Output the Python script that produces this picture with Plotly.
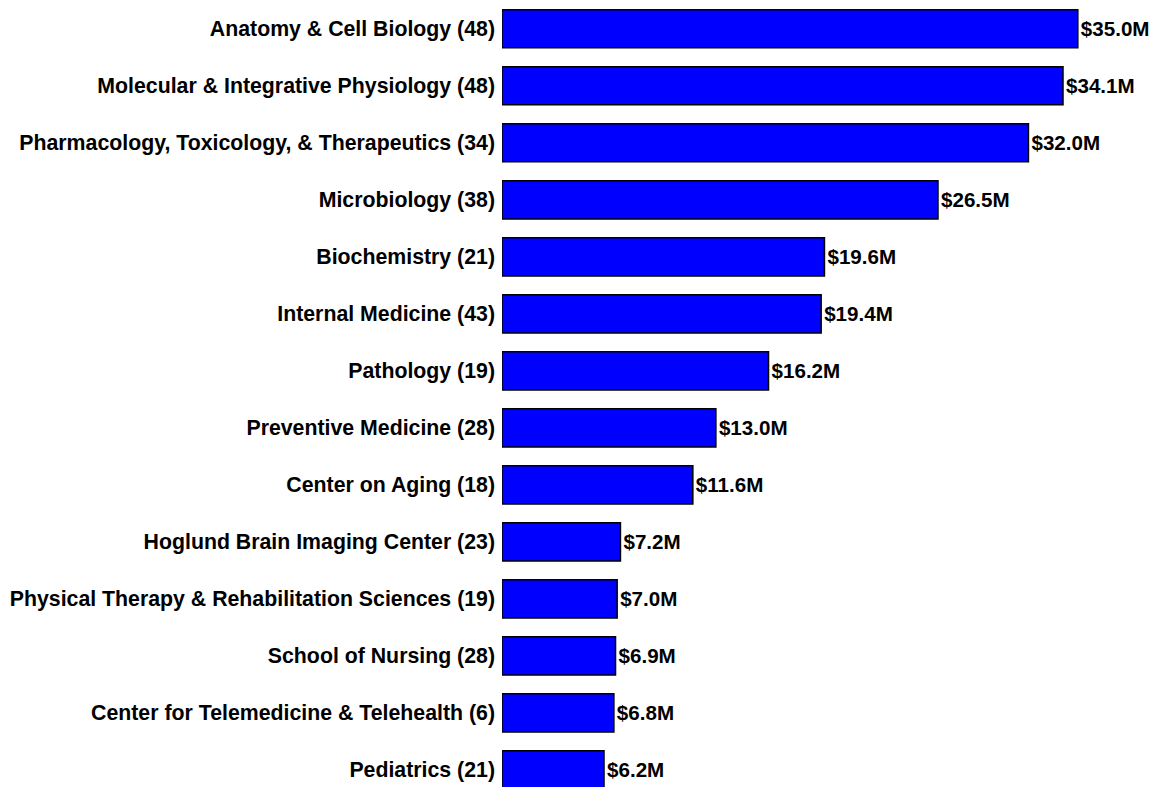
import plotly.graph_objects as go

departments = [
    "Anatomy & Cell Biology (48)",
    "Molecular & Integrative Physiology (48)",
    "Pharmacology, Toxicology, & Therapeutics (34)",
    "Microbiology (38)",
    "Biochemistry (21)",
    "Internal Medicine (43)",
    "Pathology (19)",
    "Preventive Medicine (28)",
    "Center on Aging (18)",
    "Hoglund Brain Imaging Center (23)",
    "Physical Therapy & Rehabilitation Sciences (19)",
    "School of Nursing (28)",
    "Center for Telemedicine & Telehealth (6)",
    "Pediatrics (21)",
]
funding_m = [35.0, 34.1, 32.0, 26.5, 19.6, 19.4, 16.2, 13.0, 11.6, 7.2, 7.0, 6.9, 6.8, 6.2]
value_labels = [f"${v:.1f}M" for v in funding_m]

FAMILY = "Liberation Sans, Arial, sans-serif"
TICK_FONT = dict(family=FAMILY, size=21.3, color="black", weight="bold")
VALUE_FONT = dict(family=FAMILY, size=20.6, color="black", weight="bold")

fig = go.Figure(go.Bar(
    x=funding_m, y=departments, orientation="h",
    marker=dict(color="#0000FF", line=dict(color="black", width=1.5)),
    text=value_labels, textposition="outside", cliponaxis=False,
    textfont=VALUE_FONT,
))

# page body adds an 8px margin, so the figure is sized to fill the rest of the window
fig.update_layout(
    width=1157, height=779,
    margin=dict(l=494, r=0, t=0, b=0, autoexpand=False),
    plot_bgcolor="white", paper_bgcolor="white",
    bargap=0.33,
    showlegend=False,
    font=TICK_FONT,
)
fig.update_xaxes(range=[0, 40.3], visible=False, automargin=False)
fig.update_yaxes(
    autorange=False, range=[13.30, -0.364], automargin=False,
    categoryorder="array", categoryarray=departments,
    showgrid=False, zeroline=False, showline=False,
    ticks="", tickfont=TICK_FONT, ticklabelstandoff=6,
)

fig.write_html("out.html")
